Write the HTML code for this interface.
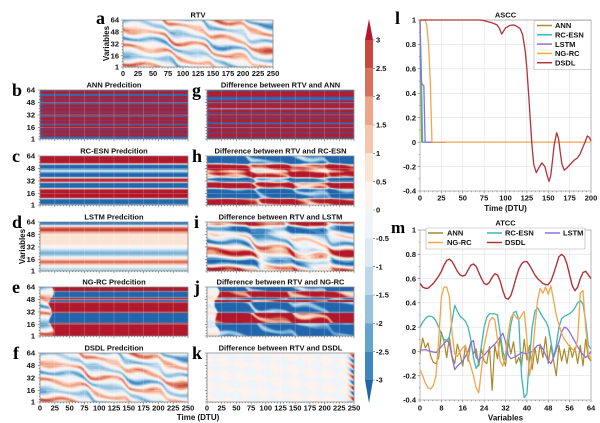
<!DOCTYPE html>
<html><head><meta charset="utf-8">
<style>
html,body{margin:0;padding:0;background:#fff;}
#wrap{position:relative;width:600px;height:423px;overflow:hidden;background:#fff;}
canvas{position:absolute;display:block;}
#ov{position:absolute;left:0;top:0;}
#ov text{font-family:"Liberation Sans",Arial,sans-serif;font-weight:bold;fill:#111;}
#ov text.lt{font-family:"Liberation Serif","Times New Roman",serif;font-weight:bold;fill:#000;}
</style></head><body>
<div id="wrap">
<canvas id="ca" width="150" height="47" style="left:123px;top:20px;width:150px;height:47px"></canvas>
<canvas id="cb" width="148" height="49" style="left:40px;top:90px;width:148px;height:49px"></canvas>
<canvas id="cg" width="147" height="49" style="left:207px;top:90px;width:147px;height:49px"></canvas>
<canvas id="cc" width="148" height="49" style="left:40px;top:156px;width:148px;height:49px"></canvas>
<canvas id="ch" width="147" height="49" style="left:207px;top:156px;width:147px;height:49px"></canvas>
<canvas id="cd" width="148" height="49" style="left:40px;top:222px;width:148px;height:49px"></canvas>
<canvas id="ci" width="147" height="49" style="left:207px;top:222px;width:147px;height:49px"></canvas>
<canvas id="ce" width="148" height="49" style="left:40px;top:287px;width:148px;height:49px"></canvas>
<canvas id="cj" width="147" height="49" style="left:207px;top:287px;width:147px;height:49px"></canvas>
<canvas id="cf" width="148" height="49" style="left:40px;top:353px;width:148px;height:49px"></canvas>
<canvas id="ck" width="147" height="49" style="left:207px;top:353px;width:147px;height:49px"></canvas>

<svg id="ov" width="600" height="423" viewBox="0 0 600 423">
<path id="hg" fill="none" stroke="#ffffff" stroke-opacity="0.3" stroke-width="0.6"/>
<path id="hf" fill="none" stroke="#888" stroke-width="0.8"/>
<path id="ht" fill="none" stroke="#666" stroke-width="0.6"/>

<text class="lt" x="96" y="24" font-size="18">a</text>
<text class="lt" x="12" y="96" font-size="18">b</text>
<text class="lt" x="192" y="96" font-size="18">g</text>
<text class="lt" x="12" y="162" font-size="18">c</text>
<text class="lt" x="192" y="162" font-size="18">h</text>
<text class="lt" x="12" y="228" font-size="18">d</text>
<text class="lt" x="194" y="228" font-size="18">i</text>
<text class="lt" x="12" y="293" font-size="18">e</text>
<text class="lt" x="194" y="293" font-size="18">j</text>
<text class="lt" x="13" y="359" font-size="18">f</text>
<text class="lt" x="192" y="359" font-size="18">k</text>
<text class="lt" x="395" y="24" font-size="18">l</text>
<text class="lt" x="391" y="233" font-size="17">m</text>

<g font-size="7.5" text-anchor="middle">
<text x="198" y="17.5">RTV</text>
<text x="114" y="87.5">ANN Predcition</text>
<text x="280.5" y="87.5">Difference between RTV and ANN</text>
<text x="114" y="153.5">RC-ESN Predcition</text>
<text x="280.5" y="153.5">Difference between RTV and RC-ESN</text>
<text x="114" y="219.5">LSTM Predcition</text>
<text x="280.5" y="219.5">Difference between RTV and LSTM</text>
<text x="114" y="284.5">NG-RC Predcition</text>
<text x="280.5" y="284.5">Difference between RTV and NG-RC</text>
<text x="114" y="350.5">DSDL Predcition</text>
<text x="280.5" y="350.5">Difference between RTV and DSDL</text>
</g>

<g font-size="7.5" text-anchor="end">
<text x="119" y="22.7">64</text><text x="119" y="34.6">48</text><text x="119" y="46.6">32</text><text x="119" y="58.5">16</text><text x="119" y="69.7">1</text>
<text x="35" y="92.7">64</text><text x="35" y="105.1">48</text><text x="35" y="117.6">32</text><text x="35" y="130">16</text><text x="35" y="141.7">1</text>
<text x="35" y="158.7">64</text><text x="35" y="171.1">48</text><text x="35" y="183.6">32</text><text x="35" y="196">16</text><text x="35" y="207.7">1</text>
<text x="35" y="224.7">64</text><text x="35" y="237.1">48</text><text x="35" y="249.6">32</text><text x="35" y="262">16</text><text x="35" y="273.7">1</text>
<text x="35" y="289.7">64</text><text x="35" y="302.1">48</text><text x="35" y="314.6">32</text><text x="35" y="327">16</text><text x="35" y="338.7">1</text>
<text x="35" y="355.7">64</text><text x="35" y="368.1">48</text><text x="35" y="380.6">32</text><text x="35" y="393">16</text><text x="35" y="404.7">1</text>
</g>
<text font-size="8" text-anchor="middle" transform="translate(109,43.5) rotate(-90)">Variables</text>
<text font-size="8" text-anchor="middle" transform="translate(25,246.5) rotate(-90)">Variables</text>

<g font-size="7.5" text-anchor="middle">
<text x="123" y="76">0</text><text x="138" y="76">25</text><text x="153" y="76">50</text><text x="168" y="76">75</text><text x="183" y="76">100</text><text x="198" y="76">125</text><text x="213" y="76">150</text><text x="228" y="76">175</text><text x="243" y="76">200</text><text x="258" y="76">225</text><text x="273" y="76">250</text>
<text x="40" y="410.5">0</text><text x="54.8" y="410.5">25</text><text x="69.6" y="410.5">50</text><text x="84.4" y="410.5">75</text><text x="99.2" y="410.5">100</text><text x="114" y="410.5">125</text><text x="128.8" y="410.5">150</text><text x="143.6" y="410.5">175</text><text x="158.4" y="410.5">200</text><text x="173.2" y="410.5">225</text><text x="188" y="410.5">250</text>
<text x="207" y="410.5">0</text><text x="221.7" y="410.5">25</text><text x="236.4" y="410.5">50</text><text x="251.1" y="410.5">75</text><text x="265.8" y="410.5">100</text><text x="280.5" y="410.5">125</text><text x="295.2" y="410.5">150</text><text x="309.9" y="410.5">175</text><text x="324.6" y="410.5">200</text><text x="339.3" y="410.5">225</text><text x="354" y="410.5">250</text>
</g>
<text x="198" y="420" font-size="8" text-anchor="middle">Time (DTU)</text>

<polygon points="365,40 373,40 369,19" fill="#b2182b"/>
<rect x="365" y="40" width="8" height="28.34" fill="#c8483f"/>
<rect x="365" y="68.33" width="8" height="28.34" fill="#d9705c"/>
<rect x="365" y="96.67" width="8" height="28.34" fill="#eea58a"/>
<rect x="365" y="125" width="8" height="28.34" fill="#f7c4ad"/>
<rect x="365" y="153.33" width="8" height="28.34" fill="#fbe3d6"/>
<rect x="365" y="181.67" width="8" height="28.34" fill="#fdf3ee"/>
<rect x="365" y="210" width="8" height="28.34" fill="#eef4f8"/>
<rect x="365" y="238.33" width="8" height="28.34" fill="#dde9f3"/>
<rect x="365" y="266.67" width="8" height="28.34" fill="#bcd8ea"/>
<rect x="365" y="295" width="8" height="28.34" fill="#95c3df"/>
<rect x="365" y="323.33" width="8" height="28.34" fill="#62a3cf"/>
<rect x="365" y="351.67" width="8" height="28.33" fill="#3f86c0"/>
<polygon points="365,380 373,380 369,403" fill="#2166ac"/>
<path d="M373 40h2M373 68.33h2M373 96.67h2M373 125h2M373 153.33h2M373 181.67h2M373 210h2M373 238.33h2M373 266.67h2M373 295h2M373 323.33h2M373 351.67h2M373 380h2" stroke="#666" stroke-width="0.6"/>
<g font-size="7.5">
<text x="376" y="42.7">3</text><text x="376" y="71">2.5</text><text x="376" y="99.4">2</text><text x="376" y="127.7">1.5</text><text x="376" y="156">1</text><text x="376" y="184.4">0.5</text><text x="376" y="212.7">0</text><text x="376" y="241">-0.5</text><text x="376" y="269.4">-1</text><text x="376" y="297.7">-1.5</text><text x="376" y="326">-2</text><text x="376" y="354.4">-2.5</text><text x="376" y="382.7">-3</text>
</g>

<path id="lg" fill="none" stroke="#e2e2e2" stroke-width="0.6"/>
<path id="lt" fill="none" stroke="#666" stroke-width="0.6"/>
<rect x="420" y="20" width="171" height="171" fill="none" stroke="#999" stroke-width="0.7"/>
<rect x="420" y="230" width="171" height="170" fill="none" stroke="#999" stroke-width="0.7"/>

<g transform="matrix(0.855,0,0,-122.14,420,142.14)" fill="none" stroke-linejoin="round">
<polyline vector-effect="non-scaling-stroke" stroke="#b08d2c" stroke-width="1.3" points="0,1 1,0.5 2,0 30,0"/>
<polyline vector-effect="non-scaling-stroke" stroke="#3db6bb" stroke-width="1.3" points="0,1 1.5,0.6 3,0 30,0"/>
<polyline vector-effect="non-scaling-stroke" stroke="#8c70e0" stroke-width="1.3" points="0,1 0.8,0.55 2,0.48 4.5,0.46 6,0 30,0"/>
<polyline vector-effect="non-scaling-stroke" stroke="#f2a54a" stroke-width="1.3" points="0,1 6,1 8,0.95 10,0.8 12,0.5 13,0.25 14,0 200,0"/>
<polyline vector-effect="non-scaling-stroke" stroke="#b2333b" stroke-width="1.3" points="0,1 70,1 75,0.995 80,0.985 85,0.975 90,0.96 93,0.93 95.5,0.885 97,0.9 100,0.935 105,0.955 109,0.96 113,0.95 117,0.93 120,0.88 123,0.75 125,0.6 127,0.4 129,0.18 131,-0.03 133,-0.18 136,-0.25 139,-0.21 142.6,-0.17 146,-0.2 149,-0.28 151,-0.32 153,-0.27 155,-0.15 157,-0.02 159.8,0.077 162,0.03 164,-0.08 166,-0.18 168.8,-0.23 172,-0.21 176,-0.18 180,-0.15 184,-0.13 187,-0.1 190,-0.05 193,0 195.7,0.05 198,0.04 200,0.01"/>
</g>
<text x="505.5" y="17.5" font-size="7.5" text-anchor="middle">ASCC</text>
<g font-size="7.5" text-anchor="end">
<text x="416" y="22.7">1</text><text x="416" y="47.1">0.8</text><text x="416" y="71.6">0.6</text><text x="416" y="96">0.4</text><text x="416" y="120.4">0.2</text><text x="416" y="144.8">0</text><text x="416" y="169.3">-0.2</text><text x="416" y="193.7">-0.4</text>
</g>
<g font-size="7.5" text-anchor="middle">
<text x="420" y="200.5">0</text><text x="441.4" y="200.5">25</text><text x="462.8" y="200.5">50</text><text x="484.1" y="200.5">75</text><text x="505.5" y="200.5">100</text><text x="526.9" y="200.5">125</text><text x="548.3" y="200.5">150</text><text x="569.6" y="200.5">175</text><text x="591" y="200.5">200</text>
</g>
<text x="505.5" y="211" font-size="8" text-anchor="middle">Time (DTU)</text>
<rect x="534" y="20.5" width="57" height="49" rx="1" fill="#fff" stroke="#aaa" stroke-width="0.6"/>
<g stroke-width="1.5">
<line x1="537" y1="25.5" x2="552" y2="25.5" stroke="#b08d2c"/>
<line x1="537" y1="34.8" x2="552" y2="34.8" stroke="#3db6bb"/>
<line x1="537" y1="44.1" x2="552" y2="44.1" stroke="#8c70e0"/>
<line x1="537" y1="53.4" x2="552" y2="53.4" stroke="#f2a54a"/>
<line x1="537" y1="62.7" x2="552" y2="62.7" stroke="#b2333b"/>
</g>
<g font-size="7.5">
<text x="555" y="28.2">ANN</text><text x="555" y="37.5">RC-ESN</text><text x="555" y="46.8">LSTM</text><text x="555" y="56.1">NG-RC</text><text x="555" y="65.4">DSDL</text>
</g>

<g transform="matrix(2.672,0,0,-121.43,420,351.43)" fill="none" stroke-linejoin="round">
<polyline vector-effect="non-scaling-stroke" stroke="#a88a2c" stroke-width="1.2" points="0,-0.02 1,0.11 2,0.03 3,0.07 4,-0.04 5,-0.09 6,-0.1 7,-0.05 8,0.16 9,0.08 10,-0.05 11,0.12 12,-0.04 13,-0.1 14,0.06 15,-0.02 16,-0.12 17,0.05 18,-0.08 19,0.08 20,-0.02 21,0.02 22,-0.12 23,0.02 24,-0.08 25,-0.1 26,0.04 27,-0.32 28,0.05 29,-0.06 30,0.12 31,-0.05 32,-0.12 33,0.1 34,-0.02 35,0.08 36,-0.1 37,-0.05 38,-0.12 39,0.1 40,-0.07 41,0.05 42,-0.15 43,0.03 44,-0.1 45,0.06 46,-0.05 47,0.12 48,-0.1 49,0.05 50,-0.08 51,-0.2 52,0.05 53,-0.08 54,0.02 55,-0.1 56,0.05 57,-0.05 58,0.03 59,-0.1 60,0.05 61,-0.12 62,0.1 63,-0.05 64,-0.08"/>
<polyline vector-effect="non-scaling-stroke" stroke="#3db6bb" stroke-width="1.3" points="0,0.2 1,0.24 2,0.27 3,0.29 4,0.29 5,0.28 6,0.25 7,0.2 8,0.14 9,0.1 10,0.09 11,0.12 12,0.25 13,0.38 14,0.33 15,0.29 16,0.27 17,0.25 18,0.2 19,0.1 20,-0.05 21,-0.14 22,-0.1 23,0.05 24,0.2 25,0.28 26,0.31 27,0.31 28,0.31 29,0.3 30,0.15 31,0 32,-0.07 33,0.05 34,0.22 35,0.32 36,0.33 37,0.25 38,-0.2 39,-0.38 40,-0.35 41,-0.05 42,0.2 43,0.33 44,0.36 45,0.32 46,0.28 47,0.25 48,0.2 49,0.08 50,-0.05 51,0.05 52,0.2 53,0.27 54,0.29 55,0.3 56,0.31 57,0.33 58,0.36 59,0.4 60,0.42 61,0.39 62,0.25 63,0.05 64,0.02"/>
<polyline vector-effect="non-scaling-stroke" stroke="#8c70e0" stroke-width="1.3" points="0,0.01 2,0.015 4,0 6,-0.01 8,0.04 10,0.09 11,0.07 12,-0.05 13,-0.15 14,-0.12 16,-0.08 18,0 19,0.07 20,0.09 21,-0.05 22,-0.07 24,-0.03 26,0.02 28,0.06 30,0.12 31,0.15 32,0.08 33,-0.03 34,-0.06 36,-0.04 38,-0.01 40,-0.02 42,0 44,0.05 45,0.05 46,0.02 48,-0.08 49,-0.1 50,-0.05 52,0.08 53,0.16 54,0.2 55,0.19 56,0.16 58,0.08 60,0 62,-0.05 63,-0.03 64,0"/>
<polyline vector-effect="non-scaling-stroke" stroke="#f2a54a" stroke-width="1.3" points="0,-0.15 1,-0.2 2,-0.26 3,-0.3 4,-0.31 5,-0.28 6,-0.2 7,0.1 8,0.45 9,0.53 10,0.53 11,0.45 12,0.15 13,-0.02 14,-0.04 15,0 16,0.03 17,0.05 18,-0.05 19,-0.12 20,-0.2 21,-0.3 22,-0.34 23,-0.15 24,0.05 25,0.15 26,0.25 27,0.28 28,0.26 29,0.1 30,-0.08 31,-0.12 32,-0.02 33,0.15 34,0.28 35,0.31 36,0.28 37,0.26 38,0.3 39,0.33 40,0.1 41,-0.2 42,-0.05 43,0.2 44,0.42 45,0.52 46,0.48 47,0.53 48,0.47 49,0.54 50,0.42 51,0.3 52,0.22 53,0.15 54,0.1 55,0.07 56,0.04 57,0.02 58,0 59,0.1 60,0.48 61,0.5 62,0.2 63,-0.02 64,-0.07"/>
<polyline vector-effect="non-scaling-stroke" stroke="#b2333b" stroke-width="1.4" points="0,0.56 1,0.53 2,0.52 3,0.52 4,0.54 5,0.56 6,0.59 7,0.62 8,0.66 9,0.71 10,0.75 11,0.76 12,0.74 13,0.7 14,0.66 15,0.63 16,0.62 17,0.63 18,0.67 19,0.71 20,0.72 21,0.7 22,0.65 23,0.6 24,0.56 25,0.55 26,0.57 27,0.61 28,0.64 29,0.63 30,0.58 31,0.5 32,0.44 33,0.43 34,0.46 35,0.53 36,0.61 37,0.68 38,0.72 39,0.74 40,0.74 41,0.71 42,0.67 43,0.63 44,0.6 45,0.58 46,0.56 47,0.55 48,0.55 49,0.58 50,0.64 51,0.71 52,0.78 53,0.8 54,0.78 55,0.72 56,0.63 57,0.54 58,0.5 59,0.53 60,0.6 61,0.65 62,0.66 63,0.63 64,0.6"/>
</g>
<text x="505.5" y="225.7" font-size="7.5" text-anchor="middle">ATCC</text>
<g font-size="7.5" text-anchor="end">
<text x="416" y="232.7">1</text><text x="416" y="257">0.8</text><text x="416" y="281.3">0.6</text><text x="416" y="305.6">0.4</text><text x="416" y="329.8">0.2</text><text x="416" y="354.1">0</text><text x="416" y="378.4">-0.2</text><text x="416" y="402.7">-0.4</text>
</g>
<g font-size="7.5" text-anchor="middle">
<text x="420" y="410.7">0</text><text x="441.4" y="410.7">8</text><text x="462.8" y="410.7">16</text><text x="484.1" y="410.7">24</text><text x="505.5" y="410.7">32</text><text x="526.9" y="410.7">40</text><text x="548.3" y="410.7">48</text><text x="569.6" y="410.7">56</text><text x="591" y="410.7">64</text>
</g>
<text x="505.5" y="420.5" font-size="8" text-anchor="middle">Variables</text>
<rect x="426" y="228" width="159" height="21" rx="1" fill="#fff" stroke="#aaa" stroke-width="0.6"/>
<g stroke-width="1.5">
<line x1="428" y1="233" x2="443" y2="233" stroke="#a88a2c"/>
<line x1="487" y1="233" x2="502" y2="233" stroke="#3db6bb"/>
<line x1="545" y1="233" x2="560" y2="233" stroke="#8c70e0"/>
<line x1="428" y1="242.5" x2="443" y2="242.5" stroke="#f2a54a"/>
<line x1="487" y1="242.5" x2="502" y2="242.5" stroke="#b2333b"/>
</g>
<g font-size="7.5">
<text x="447" y="235.7">ANN</text><text x="505" y="235.7">RC-ESN</text><text x="563" y="235.7">LSTM</text>
<text x="447" y="245.2">NG-RC</text><text x="505" y="245.2">DSDL</text>
</g>
</svg>
</div>
<script>
(function(){
var PAL=[[33,102,172],[63,134,192],[98,163,207],[149,195,223],[188,216,234],[221,233,243],[238,244,248],[253,243,238],[251,227,214],[247,196,173],[238,165,138],[217,112,92],[200,72,63],[178,24,43]];
function idx(v){var i=Math.floor((v+3)/0.5)+1;return i<0?0:(i>13?13:i);}
function pw(p,y){for(var i=1;i<p.length;i++){if(y<=p[i][0]){var a=p[i-1],b=p[i];var f=(y-a[0])/((b[0]-a[0])||1);return a[1]+(b[1]-a[1])*f;}}return p[p.length-1][1];}
function seg(s,y){for(var i=0;i<s.length;i++){if(y<=s[i][0])return s[i][1];}return s[s.length-1][1];}
function sig(x){return 1/(1+Math.exp(-x));}
function rtv(t,v){
 var s=0.08*t+11*(sig((t-68-(64-v)*0.35)/2.5)+sig((t-135-(64-v)*0.25)/2.5)+sig((t-203-(64-v)*0.15)/2.5));
 var p=2*Math.PI*(v+s)/23+0.5*Math.sin(2*Math.PI*t/60+v/7)+0.4*Math.sin(v/5-t/17);
 var m=0.85+0.3*Math.sin(t/23+v/10+1)*Math.cos(v/13-t/31);
 var q=Math.sin(p);
 return 2.4*m*(q<0?-1:1)*Math.pow(Math.abs(q),1.8);
}
var TC={r:[180,28,44],b:[40,112,190],p:[108,62,112],lb:[110,165,215]};
var SB=[[0.035,'p'],[0.085,'r'],[0.12,'b'],[0.17,'r'],[0.21,'p'],[0.26,'r'],[0.29,'b'],[0.34,'r'],[0.38,'p'],[0.43,'r'],[0.47,'p'],[0.52,'r'],[0.55,'b'],[0.61,'r'],[0.64,'p'],[0.69,'r'],[0.72,'b'],[0.78,'r'],[0.83,'p'],[0.88,'r'],[0.91,'p'],[0.95,'r'],[1.0,'b']];
var SG=[[0.04,'p'],[0.13,'r'],[0.15,'p'],[0.21,'b'],[0.25,'r'],[0.29,'p'],[0.37,'r'],[0.395,'lb'],[0.45,'r'],[0.5,'p'],[0.55,'r'],[0.59,'p'],[0.66,'r'],[0.7,'b'],[0.76,'r'],[0.8,'p'],[0.86,'r'],[0.9,'p'],[0.95,'r'],[1.0,'p']];
var CC=[[0,3.5],[0.14,3.5],[0.165,0],[0.19,-3.5],[0.25,-3.5],[0.3,-0.8],[0.31,-0.8],[0.36,-3.5],[0.42,-3.5],[0.445,0],[0.47,3.5],[0.52,3.5],[0.54,0],[0.56,-3.5],[0.64,-3.5],[0.665,0],[0.69,3.5],[0.85,3.5],[0.87,0],[0.89,-3.5],[0.96,-3.5],[1,-1.6]];
var DD=[[0,-3.2],[0.05,-2.5],[0.08,0],[0.11,2],[0.16,3.1],[0.2,2],[0.25,0.8],[0.45,0.6],[0.5,0.1],[0.55,-0.6],[0.6,-1.8],[0.64,-2.1],[0.68,-1.5],[0.72,-0.3],[0.75,0.8],[0.8,2.1],[0.84,2.0],[0.88,0.8],[0.91,0],[0.95,-1.2],[1,-1.6]];
var EE=[[0,3.5],[0.08,3.5],[0.095,-3.5],[0.21,-3.5],[0.225,3.5],[0.255,3.5],[0.27,-3.5],[0.3,-3.5],[0.315,3.5],[0.52,3.5],[0.535,-3.5],[0.73,-3.5],[0.745,3.5],[1,3.5]];
function TE(v){return 17+3*Math.sin(v/4)+2*Math.sin(v/9+1);}
var F={
 ca:function(t,v,y){return rtv(t,v);},
 cf:function(t,v,y){return rtv(t,v)+0.15*Math.sin(t/7+v/3);},
 cb:function(t,v,y){if(t<5&&Math.sin(v*1.3)>0.7)return TC.b;return TC[seg(SB,y)];},
 cg:function(t,v,y){if(t<4&&Math.sin(v*1.1+1)>0.75)return TC.b;return TC[seg(SG,y)];},
 cc:function(t,v,y){return pw(CC,y);},
 ch:function(t,v,y){return rtv(t,v)-pw(CC,y);},
 cd:function(t,v,y){return pw(DD,y);},
 ci:function(t,v,y){return rtv(t,v)-pw(DD,y);},
 ce:function(t,v,y){var w=Math.min(1,Math.max(0,(t-TE(v))/3));return (1-w)*rtv(t,v)+w*pw(EE,y);},
 cj:function(t,v,y){var w=Math.min(1,Math.max(0,(t-TE(v)+2)/3));return (1-w)*0.35*rtv(t,v)+w*(rtv(t,v)-pw(EE,y));},
 ck:function(t,v,y){var e=0.3*Math.sin(t/8+v/5)*Math.cos(v/6-t/11);if(t>232){var q=(t-232)/18;e+=q*q*4.5*Math.sin(v/2.2+t/4);}return e;}
};
for(var id in F){
 var c=document.getElementById(id);if(!c||!c.getContext)continue;
 var W=c.width,H=c.height,ctx=c.getContext('2d'),img=ctx.createImageData(W,H),d=img.data,S=3,f=F[id];
 for(var py=0;py<H;py++)for(var px=0;px<W;px++){
  var r=0,g=0,b=0;
  for(var sy=0;sy<S;sy++)for(var sx=0;sx<S;sx++){
   var t=(px+(sx+0.5)/S)/W*250,y=(py+(sy+0.5)/S)/H,v=64-63*y;
   var o=f(t,v,y);if(typeof o==='number')o=PAL[idx(o)];
   r+=o[0];g+=o[1];b+=o[2];
  }
  var k=(py*W+px)*4;d[k]=r/9;d[k+1]=g/9;d[k+2]=b/9;d[k+3]=255;
 }
 ctx.putImageData(img,0,0);
}
var HP=[[123,20,150,47],[40,90,148,49],[207,90,147,49],[40,156,148,49],[207,156,147,49],[40,222,148,49],[207,222,147,49],[40,287,148,49],[207,287,147,49],[40,353,148,49],[207,353,147,49]];
var hg='',ht='',hf='';
HP.forEach(function(a){var x=a[0],y=a[1],w=a[2],h=a[3],i;
 hf+='M'+x+' '+y+'h'+w+'v'+h+'h'+(-w)+'Z';
 for(i=1;i<10;i++)hg+='M'+(x+w*i/10).toFixed(2)+' '+y+'v'+h;
 [16,32,48].forEach(function(v){hg+='M'+x+' '+(y+(64-v)/63*h).toFixed(2)+'h'+w;});
 for(i=0;i<=50;i++)ht+='M'+(x+w*i/50).toFixed(2)+' '+(y+h)+'v'+(i%5?1.2:2.2);
 [1,16,32,48,64].forEach(function(v){ht+='M'+x+' '+(y+(64-v)/63*h).toFixed(2)+'h-2.2';});
 for(var v=4;v<64;v+=4){if(v%16)ht+='M'+x+' '+(y+(64-v)/63*h).toFixed(2)+'h-1.2';}
});
document.getElementById('hg').setAttribute('d',hg);
document.getElementById('ht').setAttribute('d',ht);
document.getElementById('hf').setAttribute('d',hf);
var lg='',lt='';
function axes(x,y,w,h,nx,ny){var i,X,Y;
 for(i=0;i<=nx;i++){X=x+w*i/nx;if(i>0&&i<nx)lg+='M'+X.toFixed(2)+' '+y+'v'+h;lt+='M'+X.toFixed(2)+' '+(y+h)+'v2.2';}
 for(i=0;i<=ny;i++){Y=y+h*i/ny;if(i>0&&i<ny)lg+='M'+x+' '+Y.toFixed(2)+'h'+w;lt+='M'+x+' '+Y.toFixed(2)+'h-2.2';}
 for(i=0;i<=nx*5;i++)if(i%5)lt+='M'+(x+w*i/(nx*5)).toFixed(2)+' '+(y+h)+'v1.2';
 for(i=0;i<=ny*2;i++)if(i%2)lt+='M'+x+' '+(y+h*i/(ny*2)).toFixed(2)+'h-1.2';
}
axes(420,20,171,171,8,7);axes(420,230,171,170,8,7);
document.getElementById('lg').setAttribute('d',lg);
document.getElementById('lt').setAttribute('d',lt);
})();
</script>
</body></html>
